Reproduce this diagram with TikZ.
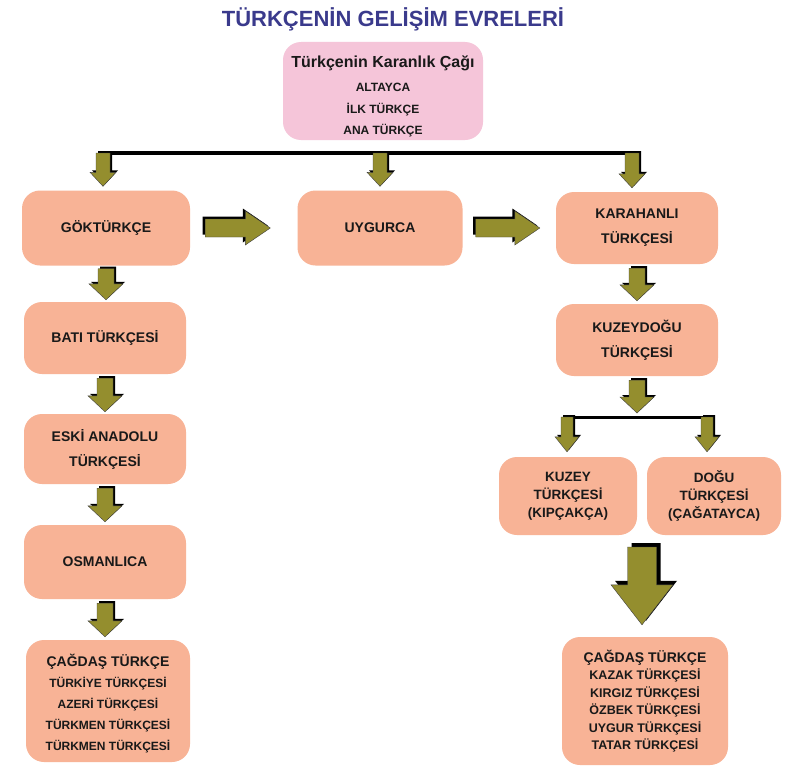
\documentclass[tikz,border=0pt]{standalone}
\usepackage{fontspec}
\setmainfont{Liberation Sans}
\usetikzlibrary{calc}
\definecolor{boxc}{HTML}{F8B396}
\definecolor{pinkc}{HTML}{F5C5D9}
\definecolor{olivec}{HTML}{948E2E}
\definecolor{titlec}{HTML}{3A3A8C}
% vertical block arrow: #1 start, #2 end, #3 shaft half width, #4 head half width, #5 head length, #6 shadow
\newcommand\downarr[6]{%
  \path[fill=black] let \p1=(#1), \p2=(#2) in
    ({\x1-#3+#6},{\y1+#6}) -- ({\x1+#3+#6},{\y1+#6}) -- ({\x1+#3+#6},{\y2+#5+#6}) --
    ({\x1+#4+#6},{\y2+#5+#6}) -- ({\x1+#6},{\y2+#6}) -- ({\x1-#4+#6},{\y2+#5+#6}) --
    ({\x1-#3+#6},{\y2+#5+#6}) -- cycle;
  \path[fill=olivec, draw=black!75, line width=0.4pt] let \p1=(#1), \p2=(#2) in
    ({\x1-#3},{\y1}) -- ({\x1+#3},{\y1}) -- ({\x1+#3},{\y2+#5}) --
    ({\x1+#4},{\y2+#5}) -- ({\x1},{\y2}) -- ({\x1-#4},{\y2+#5}) --
    ({\x1-#3},{\y2+#5}) -- cycle;
}
% horizontal block arrow
\newcommand\rightarr[6]{%
  \path[fill=black] let \p1=(#1), \p2=(#2) in
    ({\x1-#6},{\y1+#3+#6}) -- ({\x2-#5-#6},{\y1+#3+#6}) -- ({\x2-#5-#6},{\y1+#4+#6}) --
    ({\x2-#6},{\y1+#6}) -- ({\x2-#5-#6},{\y1-#4+#6}) -- ({\x2-#5-#6},{\y1-#3+#6}) --
    ({\x1-#6},{\y1-#3+#6}) -- cycle;
  \path[fill=olivec, draw=black!75, line width=0.4pt] let \p1=(#1), \p2=(#2) in
    ({\x1},{\y1+#3}) -- ({\x2-#5},{\y1+#3}) -- ({\x2-#5},{\y1+#4}) --
    ({\x2},{\y1}) -- ({\x2-#5},{\y1-#4}) -- ({\x2-#5},{\y1-#3}) --
    ({\x1},{\y1-#3}) -- cycle;
}
\begin{document}
\begin{tikzpicture}[x=1pt,y=-1pt,
  box/.style={fill=boxc, rounded corners=18pt, align=center, inner sep=0pt,
    text=black!90, font=\fontsize{14}{25}\selectfont\bfseries},
  line/.style={draw=black, line width=3.5pt}]
\useasboundingbox[fill=white] (0,0) rectangle (786,768);

\node[text=titlec, font=\fontsize{22}{26}\selectfont\bfseries] (title) at (393,19) {TÜRKÇENİN GELİŞİM EVRELERİ};

\node[box, fill=pinkc, minimum width=200pt, minimum height=98pt, rounded corners=18pt,
  font=\fontsize{12}{21.5}\selectfont\bfseries] (top) at (383,91)
  {\rule{0pt}{22pt}{\fontsize{16}{18}\selectfont Türkçenin Karanlık Çağı}\\[3pt] ALTAYCA\\ İLK TÜRKÇE\\ ANA TÜRKÇE};

\node[box, minimum width=168pt, minimum height=75pt] (gok) at (106,228) {GÖKTÜRKÇE};
\node[box, minimum width=165pt, minimum height=75pt] (uyg) at (380,228) {UYGURCA};
\node[box, minimum width=162pt, minimum height=72pt] (kar) at (637,228) {KARAHANLI\\TÜRKÇESİ};

\node[box, minimum width=162pt, minimum height=72pt] (bati) at (105,338) {BATI TÜRKÇESİ};
\node[box, minimum width=162pt, minimum height=70pt] (eski) at (105,449) {ESKİ ANADOLU\\TÜRKÇESİ};
\node[box, minimum width=162pt, minimum height=74pt] (osm) at (105,562) {OSMANLICA};
\node[box, minimum width=164pt, minimum height=122pt, font=\fontsize{12}{21}\selectfont\bfseries] (cag1) at (108,701)
  {\rule{0pt}{18pt}{\fontsize{14}{21}\selectfont ÇAĞDAŞ TÜRKÇE}\\ TÜRKİYE TÜRKÇESİ\\ AZERİ TÜRKÇESİ\\ TÜRKMEN TÜRKÇESİ\\ TÜRKMEN TÜRKÇESİ};

\node[box, minimum width=162pt, minimum height=72pt] (kuz) at (637,340) {KUZEYDOĞU\\TÜRKÇESİ};
\node[box, minimum width=138pt, minimum height=78pt, font=\fontsize{13.5}{18}\selectfont\bfseries] (kuzey) at (568,496) {KUZEY\\TÜRKÇESİ\\(KIPÇAKÇA)};
\node[box, minimum width=134pt, minimum height=78pt, font=\fontsize{13.5}{18}\selectfont\bfseries] (dogu) at (714,496) {DOĞU\\TÜRKÇESİ\\(ÇAĞATAYCA)};
\node[box, minimum width=166pt, minimum height=128pt, font=\fontsize{12.5}{17.5}\selectfont\bfseries] (cag2) at (645,701)
  {{\fontsize{14}{18}\selectfont ÇAĞDAŞ TÜRKÇE}\\ KAZAK TÜRKÇESİ\\ KIRGIZ TÜRKÇESİ\\ ÖZBEK TÜRKÇESİ\\ UYGUR TÜRKÇESİ\\ TATAR TÜRKÇESİ};

% top distribution line
\coordinate (l1) at (103,153);
\coordinate (l2) at (380,153);
\coordinate (l3) at (632,153);
\draw[line, line cap=rect] (l1) -- (l3);
\downarr{l1}{$(gok.north)+(0,-4)$}{7pt}{13pt}{14pt}{2pt}
\downarr{l2}{$(uyg.north)+(0,-4)$}{7pt}{13pt}{14pt}{2pt}
\downarr{l3}{$(kar.north)+(0,-4)$}{7pt}{13pt}{14pt}{2pt}

% horizontal arrows
\rightarr{$(gok.east)+(15,0)$}{$(uyg.west)+(-27,0)$}{9pt}{17pt}{25pt}{2.5pt}
\rightarr{$(uyg.east)+(13,0)$}{$(kar.west)+(-16,0)$}{9pt}{17pt}{25pt}{2.5pt}

% left column
\downarr{$(gok.south)+(0,3)$}{$(bati.north)+(0,-2)$}{8pt}{17pt}{16pt}{2pt}
\downarr{$(bati.south)+(0,4)$}{$(eski.north)+(0,-2)$}{8pt}{17pt}{16pt}{2pt}
\downarr{$(eski.south)+(0,4)$}{$(osm.north)+(0,-3)$}{8pt}{17pt}{16pt}{2pt}
\downarr{$(osm.south)+(0,4)$}{$(cag1.north)+(0,-3)$}{8pt}{17pt}{16pt}{2pt}

% right column
\downarr{$(kar.south)+(0,4)$}{$(kuz.north)+(0,-3)$}{8pt}{17pt}{16pt}{2pt}
\coordinate (m) at (637,417);
\downarr{$(kuz.south)+(0,4)$}{$(m)+(0,-4)$}{8pt}{17pt}{16pt}{2pt}
\coordinate (r1) at (567,417);
\coordinate (r2) at (707,417);
\draw[line, line width=3pt, line cap=rect] (r1) -- (r2);
\downarr{r1}{$(kuzey.north)+(0,-5)$}{6pt}{12pt}{15pt}{2pt}
\downarr{r2}{$(dogu.north)+(0,-5)$}{6pt}{12pt}{15pt}{2pt}

\coordinate (b) at (642,547);
\downarr{b}{$(cag2.north)+(-3,-12)$}{14.5pt}{31pt}{40pt}{4pt}
\end{tikzpicture}
\end{document}
